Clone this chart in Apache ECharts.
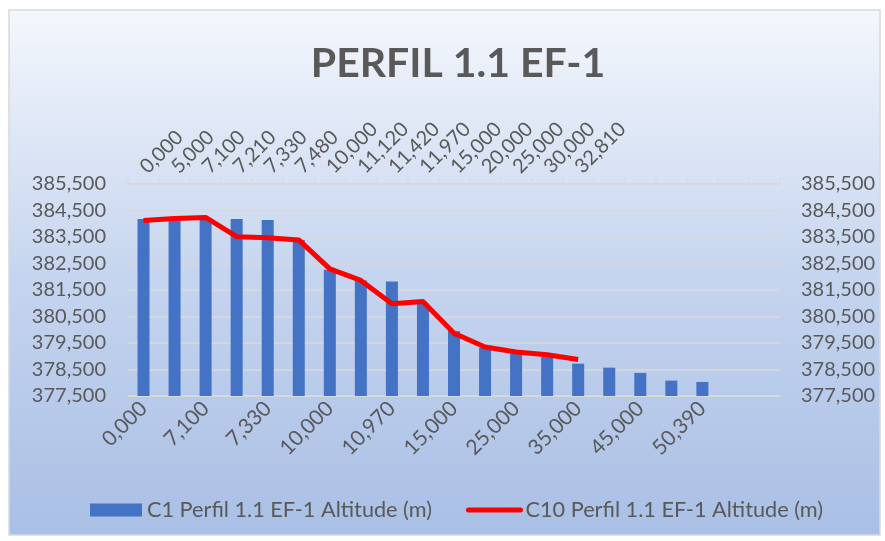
<!DOCTYPE html>
<html>
<head>
<meta charset="utf-8">
<script src="https://cdn.jsdelivr.net/npm/echarts@6/dist/echarts.min.js"></script>
<style>
  html, body { margin: 0; padding: 0; background: #fff; }
  #perfil { width: 885px; height: 541px; }
</style>
</head>
<body>
<div id="perfil"></div>
<script>
// categorias do eixo inferior (C1) e superior (C10)
var catC1 = ['0,000', '5,000', '7,100', '7,210', '7,330', '7,480', '10,000', '10,500', '10,970', '12,500',
  '15,000', '20,000', '25,000', '30,000', '35,000', '40,000', '45,000', '50,000', '50,390', ' ', '  '];
var catC10 = ['0,000', '5,000', '7,100', '7,210', '7,330', '7,480', '10,000', '11,120', '11,420', '11,970',
  '15,000', '20,000', '25,000', '30,000', '32,810', ' ', '  ', '   ', '    ', '     ', '      '];

// altitudes (m)
var altC1 = [384.18, 384.2, 384.22, 384.18, 384.14, 383.39, 382.26, 381.86, 381.82, 380.98,
  379.95, 379.32, 379.1, 378.97, 378.72, 378.57, 378.37, 378.08, 378.03];
var altC10 = [384.12, 384.2, 384.24, 383.51, 383.47, 383.39, 382.3, 381.86, 380.98, 381.07,
  379.87, 379.35, 379.16, 379.06, 378.88];

var yMin = 377.5, yMax = 385.5, yStep = 1;

var fonte = 'Lato, "Open Sans", sans-serif';
var cinza = '#595959';

function fmt(v) {
  return v.toFixed(3).replace('.', ',');
}

var chart = echarts.init(document.getElementById('perfil'));
var option = {
  backgroundColor: '#fff',
  animation: false,
  textStyle: { fontFamily: fonte, color: cinza },
  graphic: [{
    type: 'rect',
    z: -10,
    shape: { x: 9, y: 10, width: 871, height: 525 },
    style: {
      fill: new echarts.graphic.LinearGradient(0, 0, 0, 1, [
        { offset: 0, color: '#f4f7fc' },
        { offset: 0.5, color: '#c6d5ef' },
        { offset: 1, color: '#a9bfe5' }
      ]),
      stroke: '#d9d9d9',
      lineWidth: 1.5
    }
  }],
  title: {
    text: 'PERFIL 1.1 EF-1',
    left: 453,
    textAlign: 'center',
    top: 38,
    textStyle: { fontFamily: fonte, fontSize: 41, fontWeight: 'bold', color: cinza }
  },
  legend: {
    left: 90,
    top: 499,
    padding: 0,
    itemWidth: 52,
    itemHeight: 13,
    itemGap: 34,
    textStyle: { fontFamily: fonte, fontSize: 21.7, color: cinza },
    data: [
      { name: 'C1 Perfil 1.1 EF-1 Altitude (m)', icon: 'rect' },
      {
        name: 'C10 Perfil 1.1 EF-1 Altitude (m)',
        itemStyle: { opacity: 0, color: 'rgba(0,0,0,0)' },
        lineStyle: { width: 5, color: '#ff0000', cap: 'round' }
      }
    ]
  },
  grid: { left: 128, right: 105, top: 184, bottom: 145 },
  xAxis: [{
    type: 'category',
    position: 'bottom',
    data: catC1,
    axisLine: { lineStyle: { color: '#d9d9d9', width: 1.5 } },
    axisTick: { show: false },
    axisLabel: { interval: 1, rotate: 45, margin: 9, fontSize: 21, color: cinza, fontFamily: fonte }
  }, {
    type: 'category',
    position: 'top',
    data: catC10,
    axisLine: { lineStyle: { color: '#d9d9d9', width: 1.5 } },
    axisTick: { show: true, length: 6, lineStyle: { color: '#d9d9d9', width: 1.5 } },
    axisLabel: { interval: 0, rotate: -45, margin: 14, fontSize: 20, color: cinza, fontFamily: fonte }
  }],
  yAxis: [{
    type: 'value',
    position: 'left',
    min: yMin, max: yMax, interval: yStep,
    axisLine: { show: false },
    axisTick: { show: false },
    splitLine: { lineStyle: { color: '#d9d9d9', width: 1.5 } },
    axisLabel: { formatter: fmt, fontSize: 20, color: cinza, margin: 22, fontFamily: fonte }
  }, {
    type: 'value',
    position: 'right',
    min: yMin, max: yMax, interval: yStep,
    axisLine: { show: false },
    axisTick: { show: false },
    splitLine: { show: false },
    axisLabel: { formatter: fmt, fontSize: 20, color: cinza, margin: 21, fontFamily: fonte }
  }],
  series: [{
    name: 'C1 Perfil 1.1 EF-1 Altitude (m)',
    type: 'bar',
    xAxisIndex: 0,
    yAxisIndex: 0,
    barWidth: 12,
    itemStyle: { color: '#4472c4' },
    data: altC1
  }, {
    name: 'C10 Perfil 1.1 EF-1 Altitude (m)',
    type: 'line',
    xAxisIndex: 1,
    yAxisIndex: 1,
    symbol: 'none',
    z: 5,
    lineStyle: { color: '#ff0000', width: 5 },
    itemStyle: { color: '#ff0000' },
    data: altC10
  }]
};
chart.setOption(option);
</script>
</body>
</html>
